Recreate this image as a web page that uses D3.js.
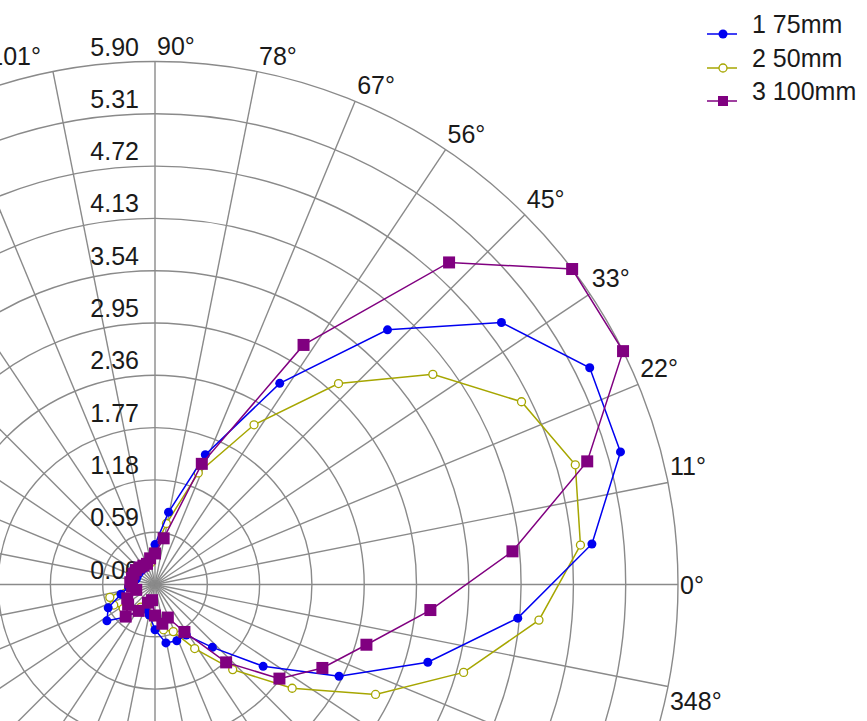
<!DOCTYPE html>
<html>
<head>
<meta charset="utf-8">
<script src="https://cdn.jsdelivr.net/npm/d3@7/dist/d3.min.js"></script>
<style>
  html, body { margin: 0; padding: 0; background: #ffffff; overflow: hidden; }
  svg { display: block; }
  text { font-family: "Liberation Sans", Arial, sans-serif; fill: #1a1a1a; }
</style>
</head>
<body>
<svg id="chart" width="867" height="721"></svg>
<script>
// Measurement directions (degrees, counter-clockwise from 0°)
const angles = [5.3, 15.9, 26.5, 37.1, 47.6, 58.2, 68.8, 79.4, 90.0, 100.6,
                111.2, 121.8, 132.4, 142.9, 153.5, 164.1, 174.7, 185.3, 195.9, 206.5,
                217.1, 227.6, 238.2, 248.8, 259.4, 270.0, 280.6, 291.2, 301.8, 312.4,
                322.9, 333.5, 344.1, 354.7];

// Series values, one per direction
const s75mm  = [4.95, 5.46, 5.48, 4.90, 3.89, 2.67, 1.57, 0.83, 0.45, 0.30,
                0.25, 0.22, 0.22, 0.22, 0.22, 0.22, 0.25, 0.30, 0.40, 0.59,
                0.68, 0.50, 0.35, 0.30, 0.35, 0.51, 0.67, 0.68, 0.67, 0.96,
                1.53, 2.32, 3.20, 4.11];
const s50mm  = [4.82, 4.93, 4.62, 3.93, 3.07, 2.12, 1.35, 0.70, 0.40, 0.25,
                0.25, 0.25, 0.25, 0.25, 0.25, 0.25, 0.25, 0.30, 0.53, 0.52,
                0.45, 0.40, 0.30, 0.28, 0.35, 0.45, 0.52, 0.57, 0.85, 1.30,
                1.94, 2.78, 3.62, 4.35];
const s100mm = [4.05, 5.07, 5.90, 5.90, 4.92, 3.18, 1.46, 0.53, 0.35, 0.30,
                0.25, 0.25, 0.26, 0.27, 0.27, 0.27, 0.28, 0.26, 0.22, 0.35,
                0.38, 0.49, 0.35, 0.22, 0.18, 0.35, 0.45, 0.40, 0.63, 1.19,
                1.76, 2.11, 2.48, 3.12];

const seriesNames = ["1 75mm", "2 50mm", "3 100mm"];

// Radial ticks and angular spoke labels
const radialTicks = [0.00, 0.59, 1.18, 1.77, 2.36, 2.95, 3.54, 4.13, 4.72, 5.31, 5.90];
const spokeLabels = ["0°", "11°", "22°", "33°", "45°", "56°", "67°", "78°", "90°", "101°",
                     "112°", "123°", "135°", "146°", "157°", "168°", "180°", "191°", "202°", "213°",
                     "225°", "236°", "247°", "258°", "270°", "281°", "292°", "303°", "315°", "326°",
                     "337°", "348°"];

const W = 867, H = 721;
const svg = d3.select("#chart");
const cx = 155, cy = 584.5, R = 523;
const rScale = d3.scaleLinear().domain([0, 5.90]).range([0, R]);
const toRad = d => d * Math.PI / 180;
const gridColor = "#8a8a8a";

const g = svg.append("g").attr("transform", `translate(${cx},${cy})`);

// Rings
g.append("g").selectAll("circle")
  .data(radialTicks.slice(1))
  .join("circle")
  .attr("r", d => rScale(d))
  .attr("fill", "none")
  .attr("stroke", gridColor)
  .attr("stroke-width", 1.4);

// Spokes every 360/32 degrees
const spokeStep = 360 / spokeLabels.length;
const spokes = spokeLabels.map((lab, i) => {
  const deg = i * spokeStep;
  return { lab, deg, x: R * Math.cos(toRad(deg)), y: -R * Math.sin(toRad(deg)) };
});
g.append("g").selectAll("line")
  .data(spokes)
  .join("line")
  .attr("x1", 0).attr("y1", 0)
  .attr("x2", d => d.x)
  .attr("y2", d => d.y)
  .attr("stroke", gridColor)
  .attr("stroke-width", 1.4);

// Radial tick labels, left of the 90° spoke
g.append("g").selectAll("text")
  .data(radialTicks)
  .join("text")
  .attr("x", -16)
  .attr("y", d => -rScale(d) - 6)
  .attr("text-anchor", "end")
  .attr("font-size", 25)
  .text(d => d.toFixed(2));

// Angle labels at the outer ring (only those whose anchor falls inside the drawing area)
const visibleSpokes = spokes.filter(d => {
  const ax = cx + d.x, ay = cy + d.y;
  return ax > 0 && ax < W && ay > 0 && ay < H;
});
g.append("g").selectAll("text")
  .data(visibleSpokes)
  .join("text")
  .attr("font-size", 25)
  .attr("text-anchor", d => (d.deg > 90.5 && d.deg < 269.5) ? "end" : "start")
  .attr("x", d => (d.deg > 90.5 && d.deg < 269.5) ? d.x - 12 : d.x + 2)
  .attr("y", d => {
    if (d.deg === 0 || d.deg === 180) return d.y + 9;
    return d.deg < 180 ? d.y - 7 : d.y + 23;
  })
  .text(d => d.lab);

// Series
const series = [
  { name: seriesNames[0], values: s75mm,  color: "#0000f0", marker: "dot" },
  { name: seriesNames[1], values: s50mm,  color: "#a6a600", marker: "ring" },
  { name: seriesNames[2], values: s100mm, color: "#800080", marker: "square" }
];

const radial = d3.lineRadial()
  .angle(d => toRad(90 - d.a))
  .radius(d => rScale(d.v))
  .curve(d3.curveLinearClosed);

function drawMarker(sel, s) {
  if (s.marker === "dot") {
    sel.append("circle").attr("r", 4.5).attr("fill", s.color);
  } else if (s.marker === "ring") {
    sel.append("circle").attr("r", 4).attr("fill", "#ffffff")
      .attr("stroke", s.color).attr("stroke-width", 1.3);
  } else {
    sel.append("rect").attr("x", -6).attr("y", -6).attr("width", 12).attr("height", 12)
      .attr("fill", s.color);
  }
}

// Draw order: olive, blue, purple on top
[series[1], series[0], series[2]].forEach(s => {
  const pts = angles.map((a, i) => ({ a, v: s.values[i] }));
  const sg = g.append("g");
  sg.append("path")
    .attr("d", radial(pts))
    .attr("fill", "none")
    .attr("stroke", s.color)
    .attr("stroke-width", 1.5);
  sg.selectAll("g.m")
    .data(pts)
    .join("g")
    .attr("class", "m")
    .attr("transform", d => {
      const th = toRad(d.a), r = rScale(d.v);
      return `translate(${r * Math.cos(th)},${-r * Math.sin(th)})`;
    })
    .each(function () { drawMarker(d3.select(this), s); });
});

// Legend
const legend = svg.append("g").attr("transform", "translate(707,0)");
const legendY = [34, 68, 101];
series.forEach((s, i) => {
  const lg = legend.append("g").attr("transform", `translate(0,${legendY[i]})`);
  lg.append("line").attr("x1", 0).attr("x2", 30).attr("y1", 0).attr("y2", 0)
    .attr("stroke", s.color).attr("stroke-width", 1.5);
  const m = lg.append("g").attr("transform", "translate(16,0)");
  if (s.marker === "square") {
    m.append("rect").attr("x", -5).attr("y", -5).attr("width", 10).attr("height", 10).attr("fill", s.color);
  } else {
    drawMarker(m, s);
  }
  lg.append("text").attr("x", 45).attr("y", -1).attr("font-size", 25).text(s.name);
});
</script>
</body>
</html>
